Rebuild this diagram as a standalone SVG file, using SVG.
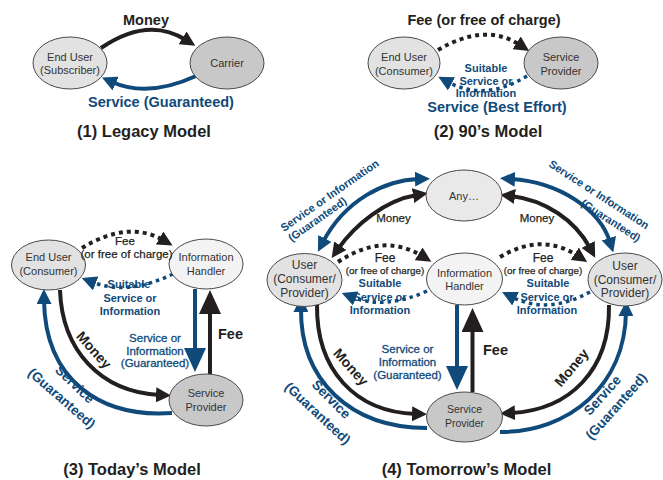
<svg xmlns="http://www.w3.org/2000/svg" width="663" height="480" viewBox="0 0 663 480">
<style>
text{font-family:"Liberation Sans",Arial,sans-serif;text-anchor:middle}
.n{stroke:#4a4a4a;stroke-width:1}
.f1{fill:#e2e2e2}.f2{fill:#c8c8c8}.f3{fill:#f3f3f3}.f4{fill:#e9e9e9}
.nt{font-size:11px;fill:#333}
.k{fill:none;stroke:#231f20;stroke-width:4}
.b{fill:none;stroke:#0f4a7a;stroke-width:4}
.dk{fill:none;stroke:#231f20;stroke-width:4;stroke-dasharray:4 4}
.db{fill:none;stroke:#0f4a7a;stroke-width:3.5;stroke-dasharray:3.5 4}
.lb{font-weight:bold;fill:#231f20}
.lbb{font-weight:bold;fill:#0f4a7a}
.lm{fill:#231f20;stroke:#231f20;stroke-width:0.25}
.lmb{fill:#0f4a7a;stroke:#0f4a7a;stroke-width:0.3}
.title{font-weight:bold;font-size:16.5px;fill:#231f20}
</style>
<defs>
<marker id="ak" viewBox="0 0 15 15" markerWidth="15" markerHeight="15" refX="4" refY="7.5" orient="auto-start-reverse" markerUnits="userSpaceOnUse"><path d="M0,0 L15,7.5 L0,15 z" fill="#231f20"/></marker>
<marker id="ab" viewBox="0 0 15 15" markerWidth="15" markerHeight="15" refX="4" refY="7.5" orient="auto-start-reverse" markerUnits="userSpaceOnUse"><path d="M0,0 L15,7.5 L0,15 z" fill="#0f4a7a"/></marker>
<marker id="akL" viewBox="0 0 24 22" markerWidth="24" markerHeight="22" refX="2" refY="11" orient="auto" markerUnits="userSpaceOnUse"><path d="M0,0 L24,11 L0,22 z" fill="#231f20"/></marker>
<marker id="abL" viewBox="0 0 24 22" markerWidth="24" markerHeight="22" refX="2" refY="11" orient="auto" markerUnits="userSpaceOnUse"><path d="M0,0 L24,11 L0,22 z" fill="#0f4a7a"/></marker>
</defs>

<g id="connectors">
<!-- panel 1 -->
<path class="k" d="M101 48 Q148 16 186 40" marker-end="url(#ak)"/>
<path class="b" d="M196 76 Q148 98 112 82" marker-end="url(#ab)"/>
<!-- panel 2 -->
<path class="dk" d="M438 50 Q485 22 520 45" marker-end="url(#ak)"/>
<path class="db" d="M527 76 Q485 102 448 82" marker-end="url(#ab)"/>
<!-- panel 3 -->
<path class="dk" d="M82 248 Q128 220 163 240" marker-end="url(#ak)"/>
<path class="db" d="M173 274 Q128 296 92 282" marker-end="url(#ab)"/>
<path class="b" d="M195 289 L195 350" marker-end="url(#abL)"/>
<path class="k" d="M210 374 L210 312" marker-end="url(#akL)"/>
<path class="k" d="M60 290 C62 350 100 392 160 395" marker-end="url(#ak)"/>
<path class="b" d="M172 413 C100 418 45 380 44 300" marker-end="url(#ab)"/>
<!-- panel 4 -->
<path class="b" d="M323 242 C345 200 385 180 419 179" marker-start="url(#ab)" marker-end="url(#ab)"/>
<path class="k" d="M338 249 C355 225 385 200 417 195" marker-start="url(#ak)" marker-end="url(#ak)"/>
<path class="b" d="M511 179 C560 182 600 210 610 242" marker-start="url(#ab)" marker-end="url(#ab)"/>
<path class="k" d="M511 196 C545 200 575 220 590 248" marker-start="url(#ak)" marker-end="url(#ak)"/>
<path class="dk" d="M338 262 Q383 232 422 256" marker-end="url(#ak)"/>
<path class="db" d="M427 291 Q385 310 352 297" marker-end="url(#ab)"/>
<path class="dk" d="M500 257 Q542 232 578 256" marker-end="url(#ak)"/>
<path class="db" d="M590 292 Q548 315 512 297" marker-end="url(#ab)"/>
<path class="b" d="M457 305 L457 368" marker-end="url(#abL)"/>
<path class="k" d="M472.5 392 L472.5 330" marker-end="url(#akL)"/>
<path class="k" d="M317 304 C316 370 355 412 416 414" marker-end="url(#ak)"/>
<path class="b" d="M427 428 C350 428 300 380 301 308" marker-end="url(#ab)"/>
<path class="k" d="M609 305 C610 370 570 410 511 413" marker-end="url(#ak)"/>
<path class="b" d="M500 432 C570 432 625 385 626 312" marker-end="url(#ab)"/>
</g>

<!-- panel 1 nodes -->
<g id="p1-enduser"><ellipse class="n f1" cx="70" cy="63" rx="37" ry="26"/><text class="nt" x="70" y="61">End User</text><text class="nt" x="70" y="74">(Subscriber)</text></g>
<g id="p1-carrier"><ellipse class="n f2" cx="227" cy="63" rx="37" ry="26"/><text class="nt" x="227" y="67">Carrier</text></g>
<!-- panel 2 nodes -->
<g id="p2-enduser"><ellipse class="n f1" cx="404" cy="63" rx="36" ry="26"/><text class="nt" x="404" y="61">End User</text><text class="nt" x="404" y="75">(Consumer)</text></g>
<g id="p2-provider"><ellipse class="n f2" cx="561" cy="63" rx="37" ry="26"/><text class="nt" x="561" y="61">Service</text><text class="nt" x="561" y="75">Provider</text></g>
<!-- panel 3 nodes -->
<g id="p3-enduser"><ellipse class="n f1" cx="48.5" cy="265" rx="37" ry="25"/><text class="nt" x="48.5" y="261">End User</text><text class="nt" x="48.5" y="274.5">(Consumer)</text></g>
<g id="p3-handler"><ellipse class="n f3" cx="206" cy="264" rx="37" ry="25"/><text class="nt" x="206" y="261">Information</text><text class="nt" x="206" y="274.5">Handler</text></g>
<g id="p3-provider"><ellipse class="n f2" cx="206" cy="400" rx="37" ry="26"/><text class="nt" x="206" y="397">Service</text><text class="nt" x="206" y="411">Provider</text></g>
<!-- panel 4 nodes -->
<g id="p4-any"><ellipse class="n f4" cx="464" cy="195.5" rx="38" ry="25.5"/><text class="nt" x="464" y="200" font-size="11.5">Any…</text></g>
<g id="p4-user-left"><ellipse class="n f1" cx="304.5" cy="280" rx="37.5" ry="26.5"/><text class="nt" x="304.5" y="269" style="font-size:12px">User</text><text class="nt" x="304.5" y="283" style="font-size:12px">(Consumer/</text><text class="nt" x="304.5" y="296.5" style="font-size:12px">Provider)</text></g>
<g id="p4-handler"><ellipse class="n f3" cx="464.5" cy="279" rx="38" ry="26"/><text class="nt" x="464.5" y="277">Information</text><text class="nt" x="464.5" y="290">Handler</text></g>
<g id="p4-user-right"><ellipse class="n f1" cx="625" cy="279.5" rx="37" ry="26.5"/><text class="nt" x="625" y="270" style="font-size:12px">User</text><text class="nt" x="625" y="283.5" style="font-size:12px">(Consumer/</text><text class="nt" x="625" y="297" style="font-size:12px">Provider)</text></g>
<g id="p4-provider"><ellipse class="n f2" cx="464.5" cy="417" rx="38" ry="25"/><text class="nt" x="464.5" y="413" style="font-size:10.5px">Service</text><text class="nt" x="464.5" y="427" style="font-size:10.5px">Provider</text></g>

<g id="labels">
<!-- panel 1 -->
<text class="lb" x="146" y="25" font-size="14.5">Money</text>
<text class="lbb" x="161" y="107" font-size="14.5">Service (Guaranteed)</text>
<text class="title" x="144" y="137">(1) Legacy Model</text>
<!-- panel 2 -->
<text class="lb" x="484" y="25" font-size="14.5">Fee (or free of charge)</text>
<text class="lbb" x="486" y="72" font-size="11">Suitable</text>
<text class="lbb" x="486" y="84.5" font-size="11">Service or</text>
<text class="lbb" x="486" y="97" font-size="11">Information</text>
<text class="lbb" x="497" y="112" font-size="14.5">Service (Best Effort)</text>
<text class="title" x="488" y="137">(2) 90’s Model</text>
<!-- panel 3 -->
<text class="lm" x="125" y="245" font-size="11.5">Fee</text>
<text class="lm" x="126.5" y="258" font-size="11.5">(or free of charge)</text>
<text class="lbb" x="129" y="288" font-size="11">Suitable</text>
<text class="lbb" x="130" y="301.5" font-size="11">Service or</text>
<text class="lbb" x="130" y="314.5" font-size="11">Information</text>
<text class="lmb" x="155" y="342" font-size="11.5">Service or</text>
<text class="lmb" x="155" y="354.5" font-size="11.5">Information</text>
<text class="lmb" x="155" y="367" font-size="11.5">(Guaranteed)</text>
<text class="lb" x="230.5" y="339" font-size="14.5">Fee</text>
<text class="lb" font-size="14" transform="translate(94,350) rotate(48)" x="0" y="5">Money</text>
<text class="lbb" font-size="13.5" transform="translate(75,384) rotate(44)" x="0" y="5">Service</text>
<text class="lbb" font-size="13.5" transform="translate(62,398) rotate(41)" x="0" y="5">(Guaranteed)</text>
<text class="title" x="132" y="475">(3) Today’s Model</text>
<!-- panel 4 -->
<text class="lbb" font-size="11" style="text-anchor:start" transform="translate(284,232) rotate(-35)">Service or Information</text>
<text class="lbb" font-size="11" style="text-anchor:start" transform="translate(291.5,242) rotate(-35)">(Guaranteed)</text>
<text class="lbb" font-size="11" style="text-anchor:start" transform="translate(548,166) rotate(33)">Service or Information</text>
<text class="lbb" font-size="11" style="text-anchor:start" transform="translate(580,205) rotate(33)">(Guaranteed)</text>
<text class="lm" x="393.5" y="222" font-size="11.5">Money</text>
<text class="lm" x="537" y="222" font-size="11.5">Money</text>
<text class="lm" x="385" y="262" font-size="12">Fee</text>
<text class="lm" x="385" y="273.5" font-size="9.8">(or free of charge)</text>
<text class="lbb" x="380" y="287" font-size="11">Suitable</text>
<text class="lbb" x="380" y="300.5" font-size="11">Service or</text>
<text class="lbb" x="380" y="314" font-size="11">Information</text>
<text class="lm" x="543" y="262" font-size="12">Fee</text>
<text class="lm" x="543" y="273.5" font-size="9.8">(or free of charge)</text>
<text class="lbb" x="548" y="287" font-size="11">Suitable</text>
<text class="lbb" x="547" y="300.5" font-size="11">Service or</text>
<text class="lbb" x="547" y="314" font-size="11">Information</text>
<text class="lmb" x="407.5" y="352.5" font-size="11.5">Service or</text>
<text class="lmb" x="407.5" y="365.5" font-size="11.5">Information</text>
<text class="lmb" x="407.5" y="378.5" font-size="11.5">(Guaranteed)</text>
<text class="lb" x="495.5" y="355" font-size="14.5">Fee</text>
<text class="lb" font-size="14" transform="translate(351,367) rotate(48)" x="0" y="5">Money</text>
<text class="lbb" font-size="13.5" transform="translate(331.5,399) rotate(45)" x="0" y="5">Service</text>
<text class="lbb" font-size="13.5" transform="translate(318,413) rotate(43)" x="0" y="5">(Guaranteed)</text>
<text class="lb" font-size="14" transform="translate(571.5,367.5) rotate(-50)" x="0" y="5">Money</text>
<text class="lbb" font-size="13.5" transform="translate(602,395) rotate(-48)" x="0" y="5">Service</text>
<text class="lbb" font-size="13.5" transform="translate(616,406) rotate(-48)" x="0" y="5">(Guaranteed)</text>
<text class="title" x="466.5" y="475">(4) Tomorrow’s Model</text>
</g>
</svg>
